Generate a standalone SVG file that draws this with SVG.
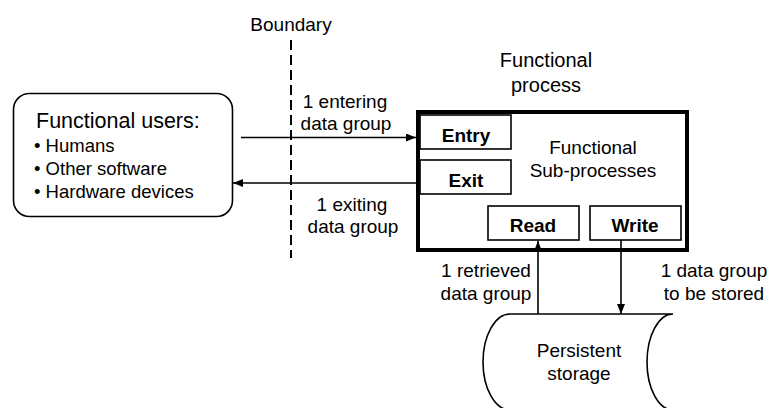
<svg xmlns="http://www.w3.org/2000/svg" width="770" height="408" viewBox="0 0 770 408">
<defs>
<marker id="arr" markerWidth="10" markerHeight="8" refX="10" refY="4" orient="auto" markerUnits="userSpaceOnUse">
<path d="M0,0 L10,4 L0,8 Z" fill="#000"/>
</marker>
<style>
text{font-family:"Liberation Sans",Arial,sans-serif;fill:#000;}
.t{font-size:19px;}
.c{text-anchor:middle;}
.b{font-size:19px;font-weight:bold;text-anchor:middle;}
.box{fill:#fff;stroke:#000;stroke-width:1.6;}
.conn{fill:none;stroke:#000;stroke-width:1.6;marker-end:url(#arr);}
</style>
</defs>
<rect width="770" height="408" fill="#fff"/>

<g id="boundary">
<line x1="291" y1="40" x2="291" y2="258" stroke="#000" stroke-width="2" stroke-dasharray="10,5"/>
<text class="t c" x="291" y="31">Boundary</text>
</g>

<g id="users">
<rect class="box" x="13.5" y="93.5" width="219" height="123" rx="16"/>
<text x="36" y="128" style="font-size:21.5px">Functional users:</text>
<text x="34" y="152" style="font-size:18.5px">• Humans</text>
<text x="34" y="175" style="font-size:18.5px">• Other software</text>
<text x="34" y="198" style="font-size:18.5px">• Hardware devices</text>
</g>

<g id="process">
<text class="c" x="546" y="67" style="font-size:20px">Functional</text>
<text class="c" x="546" y="92" style="font-size:20px">process</text>
<rect x="418" y="112" width="269" height="138" fill="#fff" stroke="#000" stroke-width="4"/>
<text class="t c" x="593" y="154">Functional</text>
<text class="t c" x="593" y="177">Sub-processes</text>
</g>

<g id="entry">
<rect class="box" x="420" y="115" width="91" height="34"/>
<text class="b" x="466" y="142">Entry</text>
</g>
<g id="exit">
<rect class="box" x="420" y="160" width="91" height="34"/>
<text class="b" x="466" y="187">Exit</text>
</g>
<g id="read">
<rect class="box" x="488" y="206" width="91" height="34"/>
<text class="b" x="533" y="232">Read</text>
</g>
<g id="write">
<rect class="box" x="590" y="206" width="91" height="34"/>
<text class="b" x="635" y="232">Write</text>
</g>

<g id="storage">
<path d="M510,314 H673 M510,314 A27,48 0 0,0 510,410 M673,314 A26,48 0 0,0 673,410" fill="none" stroke="#000" stroke-width="1.6"/>
<text class="t c" x="579" y="357">Persistent</text>
<text class="t c" x="579" y="380">storage</text>
</g>

<g id="connectors">
<line class="conn" x1="241" y1="137.5" x2="416" y2="137.5"/>
<line class="conn" x1="416" y1="183" x2="233" y2="183"/>
<line class="conn" x1="538" y1="314" x2="538" y2="241"/>
<line class="conn" x1="621" y1="240" x2="621" y2="314"/>
<text class="t c" x="345" y="108">1 entering</text>
<text class="t c" x="346" y="130">data group</text>
<text class="t c" x="352" y="211">1 exiting</text>
<text class="t c" x="353" y="233">data group</text>
<text class="t c" x="486" y="277">1 retrieved</text>
<text class="t c" x="486" y="300">data group</text>
<text class="t c" x="714" y="277">1 data group</text>
<text class="t c" x="714" y="300">to be stored</text>
</g>
</svg>
